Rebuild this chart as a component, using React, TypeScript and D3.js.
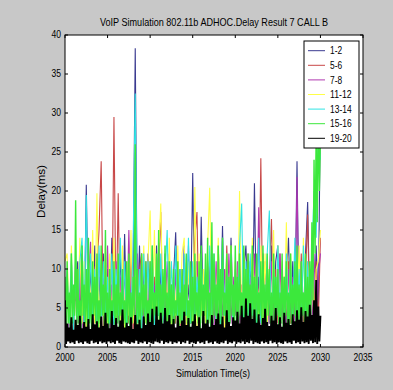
import React from "react";
import * as d3 from "d3";

const title = "VoIP Simulation 802.11b ADHOC.Delay Result 7 CALL B";
const xLabel = "Simulation Time(s)";
const yLabel = "Delay(ms)";
const xTicks = [2000, 2005, 2010, 2015, 2020, 2025, 2030, 2035];
const yTicks = [0, 5, 10, 15, 20, 25, 30, 35, 40];
const tStart = 2000;
const tEnd = 2030;

const seriesNames = ["1-2", "5-6", "7-8", "11-12", "13-14", "15-16", "19-20"];
const seriesColors = ["#3a3a90", "#c84848", "#b038b0", "#ffff48", "#30e4e4", "#3ce83c", "#000000"];

const s12 = [
  3, 9, 2, 11, 4, 8, 11, 3, 12, 2, 20.8, 3, 10, 4, 13, 2, 9, 3, 12, 4,
  10, 2, 14, 3, 8, 4, 12, 2, 14.5, 3, 11, 2, 9, 38.3, 3, 13, 2, 10, 4, 12,
  3, 9, 2, 13, 4, 10, 3, 12, 2, 11, 4, 9, 14.7, 3, 10, 2, 13, 3, 8, 4,
  22.3, 3, 11, 2, 16.7, 4, 9, 3, 12, 2, 10, 4, 13, 3, 15.5, 2, 11, 3, 14, 4,
  9, 2, 12, 3, 10, 13, 4, 11, 2, 21, 3, 9, 4, 12, 2, 10, 3, 13, 4, 11,
  13, 3, 10, 2, 9, 14, 3, 11, 4, 23.8, 2, 10, 3, 12, 18.6, 4, 9, 3, 13, 5,
  31,
];
const s56 = [
  2, 8, 3, 10, 2, 7, 4, 11, 3, 9, 2, 12, 4, 8, 3, 10, 15, 23.8, 2, 9,
  3, 11, 2, 29.5, 3, 19.7, 2, 10, 4, 8, 3, 12, 2, 9, 4, 10, 12, 3, 8, 2,
  11, 3, 9, 2, 10, 17.3, 3, 8, 4, 12, 2, 9, 3, 11, 2, 10, 4, 8, 11, 3,
  9, 14, 17.3, 2, 10, 3, 8, 4, 12, 2, 9, 3, 11, 4, 8, 2, 13, 3, 10, 4,
  8, 3, 11, 2, 9, 4, 12, 3, 10, 2, 8, 4, 24.2, 2, 11, 3, 9, 16.4, 2, 10,
  3, 12, 4, 9, 2, 11, 3, 8, 4, 10, 2, 12, 3, 9, 17, 2, 10, 4, 11, 3,
  14,
];
const s78 = [
  3, 9, 2, 8, 4, 11, 3, 10, 2, 9, 4, 8, 13.5, 3, 10, 2, 12, 4, 9, 3,
  13, 2, 8, 4, 11, 3, 9, 2, 10, 4, 15, 3, 8, 2, 12, 4, 9, 3, 11, 2,
  10, 3, 8, 4, 12, 2, 9, 3, 11, 4, 8, 2, 10, 3, 9, 4, 12, 2, 13, 3,
  9, 4, 11, 2, 8, 3, 10, 4, 9, 12, 2, 11, 3, 8, 4, 10, 2, 12, 3, 9,
  4, 11, 2, 8, 3, 10, 4, 9, 2, 12, 3, 17.9, 2, 10, 4, 8, 3, 11, 2, 9,
  4, 12, 3, 8, 2, 10, 4, 9, 3, 21.8, 2, 11, 4, 8, 3, 10, 2, 12, 4, 9,
  12,
];
const s1112 = [
  11, 12, 3, 13, 2, 10, 4, 14, 3, 11, 2, 12, 4, 15, 3, 19.7, 2, 11, 4, 13,
  3, 12, 2, 14, 4, 10, 3, 13, 2, 11, 4, 15, 3, 12, 2, 10, 4, 13, 3, 11,
  17.5, 3, 15, 2, 12, 18.4, 4, 11, 3, 14, 2, 10, 4, 13, 3, 12, 14, 2, 11, 4,
  3, 20.5, 2, 12, 4, 10, 3, 13, 20.4, 2, 11, 4, 14, 3, 10, 2, 12, 4, 13, 3,
  11, 2, 20, 3, 12, 4, 10, 2, 14, 3, 11, 4, 13, 2, 12, 3, 10, 4, 15, 2,
  13, 3, 11, 4, 16, 2, 12, 3, 10, 4, 13, 2, 14, 3, 11, 4, 12, 2, 10, 11,
  15,
];
const s1314 = [
  4, 10, 3, 12, 2, 9, 4, 11, 14, 3, 19.5, 2, 12, 4, 10, 3, 13, 2, 11, 4,
  9, 3, 12, 2, 10, 4, 14, 3, 11, 2, 9, 4, 13, 32.5, 3, 10, 2, 12, 4, 11,
  3, 13, 2, 10, 4, 12, 3, 9, 15, 2, 11, 4, 13, 3, 10, 2, 12, 4, 14, 3,
  11, 2, 9, 4, 12, 3, 10, 2, 13, 4, 12, 3, 11, 2, 14, 4, 10, 3, 12, 2,
  10, 4, 13, 18.4, 2, 11, 3, 12, 4, 9, 2, 14, 3, 10, 4, 12, 17.5, 2, 11, 3,
  13, 4, 10, 2, 12, 3, 11, 4, 14, 2, 10, 3, 13, 4, 11, 2, 12, 20, 14, 28,
  24,
];
const s1516 = [
  9, 2, 11, 3, 7, 2, 12, 3, 8, 4, 18.8, 2, 10, 3, 6, 2, 13, 4, 8, 3,
  10, 2, 14, 3, 7, 2, 11, 4, 9, 3, 12, 2, 6, 3, 13, 4, 8, 2, 15, 3,
  7, 2, 10, 3, 6, 4, 11, 2, 8, 3, 12, 2, 7, 4, 10, 3, 6, 2, 11, 3,
  12, 2, 7, 3, 9, 4, 26, 2, 10, 3, 7, 2, 12, 4, 8, 3, 11, 2, 6, 3,
  11, 2, 13, 3, 7, 4, 12, 2, 15, 3, 8, 2, 10, 4, 13, 3, 7, 2, 11, 3,
  8, 2, 10, 3, 6, 4, 11, 2, 7, 3, 10, 2, 8, 4, 12, 3, 6, 2, 11, 3,
  9, 2, 12, 4, 7, 3, 11, 2, 13, 3, 8, 4, 12, 2, 14, 3, 7, 2, 16, 3,
  12, 4, 8, 2, 13, 3, 10, 2, 14, 4, 7, 3, 12, 2, 9, 3, 13, 4, 8, 2,
  13, 3, 9, 2, 12, 4, 7, 3, 13, 2, 10, 3, 12, 4, 8, 2, 13, 3, 9, 2,
  12, 3, 7, 4, 11, 2, 13, 3, 8, 2, 12, 4, 10, 3, 7, 2, 12, 3, 9, 4,
  10, 2, 7, 3, 12, 2, 9, 4, 11, 3, 7, 2, 12, 3, 8, 4, 11, 2, 13, 3,
  8, 2, 11, 4, 7, 3, 12, 2, 9, 3, 11, 4, 16, 6, 24, 12, 28, 16, 30, 20,
  27,
];
const s1920 = [
  6, 0.4, 3, 0.7, 2.5, 0.5, 3.8, 0.6, 2.2, 0.4, 3.5, 0.8, 2.8, 0.5, 4, 0.6, 2.4, 0.4, 3.2, 0.7,
  2.6, 0.5, 3.6, 0.4, 2.3, 0.8, 4.2, 0.5, 2.9, 0.6, 3.3, 0.4, 2.5, 0.7, 3.9, 0.5, 2.7, 0.6, 4.4, 0.4,
  3, 0.7, 2.4, 0.5, 4.6, 0.6, 2.8, 0.4, 3.7, 0.8, 2.6, 0.5, 3.4, 0.4, 4.8, 0.7, 2.5, 0.6, 3.1, 0.5,
  2.7, 0.4, 3.8, 0.6, 2.3, 0.5, 4.1, 0.8, 2.9, 0.4, 3.5, 0.6, 2.4, 0.5, 3.9, 0.7, 2.8, 0.4, 4.3, 0.6,
  3.2, 0.5, 4.9, 0.4, 2.8, 0.7, 5.2, 0.6, 3.5, 0.5, 4.4, 0.8, 3, 0.4, 5, 0.6, 3.3, 0.5, 4.1, 0.7,
  2.9, 0.4, 3.6, 0.6, 2.5, 0.5, 4, 0.7, 2.7, 0.4, 3.4, 0.6, 4.5, 0.5, 2.8, 0.8, 3.7, 0.4, 2.6, 0.6,
  3.3, 0.5, 4.2, 0.4, 2.7, 0.7, 3.8, 0.5, 2.4, 0.6, 4.6, 0.4, 3, 0.8, 3.5, 0.5, 2.6, 0.6, 4.1, 0.4,
  2.8, 0.7, 3.6, 0.5, 4.3, 0.4, 2.9, 0.6, 3.9, 0.5, 2.5, 0.8, 4.7, 0.4, 3.2, 0.6, 2.7, 0.5, 3.8, 0.7,
  3.4, 0.4, 4.5, 0.6, 3, 0.5, 5.3, 0.7, 3.8, 0.4, 6.2, 0.6, 4, 0.5, 5.6, 0.8, 3.6, 0.4, 4.8, 0.6,
  3.1, 0.5, 4.2, 0.4, 2.8, 0.7, 3.7, 0.5, 4.9, 0.6, 3.2, 0.4, 2.7, 0.8, 4, 0.5, 3.4, 0.6, 5, 0.4,
  2.9, 0.6, 3.8, 0.5, 2.6, 0.4, 4.4, 0.7, 3.1, 0.5, 3.6, 0.6, 2.8, 0.4, 4.2, 0.8, 3.3, 0.5, 4.7, 0.6,
  3.5, 0.4, 5.1, 0.7, 3.2, 0.5, 4.6, 0.6, 3.9, 0.4, 5.4, 0.8, 4.1, 0.5, 6, 0.6, 8.6, 0.4, 5.2, 0.7,
  4,
];

const seriesValues = [s12, s56, s78, s1112, s1314, s1516, s1920];
const seriesStroke = [1.1, 1.1, 1.1, 1.1, 1.1, 1.4, 1.9];

const W = 393;
const H = 390;
const PL = 65;
const PR = 363;
const PT = 35;
const PB = 347;
const FONT = "'Liberation Sans', Arial, sans-serif";
const CHAR_W = 4.75;

function labelWidth(s: string): number {
  let w = 0;
  for (const c of s) w += c === "-" ? 2.6 : c === "." ? 2.4 : CHAR_W;
  return w;
}

export default function App() {
  const x = d3.scaleLinear().domain([2000, 2035]).range([PL, PR]);
  const y = d3.scaleLinear().domain([0, 40]).range([PB, PT]);

  const paths = seriesValues.map((vals) => {
    const n = vals.length;
    const pts: [number, number][] = vals.map((v, i) => [tStart + (i * (tEnd - tStart)) / (n - 1), v]);
    return d3
      .line<[number, number]>()
      .x((d) => x(d[0]))
      .y((d) => y(d[1]))(pts) as string;
  });

  const legendTop = 50.7;
  const legendStep = 14.6;

  return (
    <svg
      width={W}
      height={H}
      style={{ position: "fixed", left: 0, top: 0, background: "#c8c8c8" }}
      fontFamily={FONT}
    >
      <rect x={0} y={0} width={W} height={H} fill="#c8c8c8" />
      <defs>
        <clipPath id="plotclip">
          <rect x={PL} y={PT} width={PR - PL} height={PB - PT} />
        </clipPath>
      </defs>
      <rect x={PL} y={PT} width={PR - PL} height={PB - PT} fill="#ffffff" />
      <g clipPath="url(#plotclip)">
        {paths.map((d, k) => (
          <path
            key={k}
            d={d}
            fill="none"
            stroke={seriesColors[k]}
            strokeWidth={seriesStroke[k]}
            strokeLinejoin="miter"
            strokeMiterlimit={2}
          />
        ))}
      </g>
      <rect x={PL} y={PT} width={PR - PL} height={PB - PT} fill="none" stroke="#000" strokeWidth={1} />
      {xTicks.map((t) => (
        <g key={"xt" + t}>
          <line x1={x(t)} x2={x(t)} y1={PB} y2={PB - 3} stroke="#000" />
          <line x1={x(t)} x2={x(t)} y1={PT} y2={PT + 3} stroke="#000" />
          <text
            x={x(t)}
            y={361}
            fontSize={10.5}
            textAnchor="middle"
            textLength={labelWidth(String(t))}
            lengthAdjust="spacingAndGlyphs"
          >
            {t}
          </text>
        </g>
      ))}
      {yTicks.map((v) => (
        <g key={"yt" + v}>
          <line x1={PL} x2={PL + 3} y1={y(v)} y2={y(v)} stroke="#000" />
          <line x1={PR} x2={PR - 3} y1={y(v)} y2={y(v)} stroke="#000" />
          <text
            x={61}
            y={y(v) + 3.4}
            fontSize={10.5}
            textAnchor="end"
            textLength={labelWidth(String(v))}
            lengthAdjust="spacingAndGlyphs"
          >
            {v}
          </text>
        </g>
      ))}
      <text x={214} y={25.5} fontSize={10.5} textAnchor="middle" textLength={228} lengthAdjust="spacingAndGlyphs">
        {title}
      </text>
      <text x={213} y={377} fontSize={10.5} textAnchor="middle" textLength={74} lengthAdjust="spacingAndGlyphs">
        {xLabel}
      </text>
      <text
        transform={`translate(45,191.5) rotate(-90)`}
        fontSize={10.5}
        textAnchor="middle"
        textLength={53}
        lengthAdjust="spacingAndGlyphs"
      >
        {yLabel}
      </text>
      <rect x={304} y={41} width={55} height={107} fill="#ffffff" stroke="#000" strokeWidth={1} />
      {seriesNames.map((name, k) => {
        const ly = legendTop + k * legendStep;
        return (
          <g key={name}>
            <line x1={308} x2={325} y1={ly} y2={ly} stroke={seriesColors[k]} strokeWidth={1} />
            <text
              x={330}
              y={ly + 3.6}
              fontSize={10.5}
              textLength={labelWidth(name)}
              lengthAdjust="spacingAndGlyphs"
            >
              {name}
            </text>
          </g>
        );
      })}
    </svg>
  );
}
